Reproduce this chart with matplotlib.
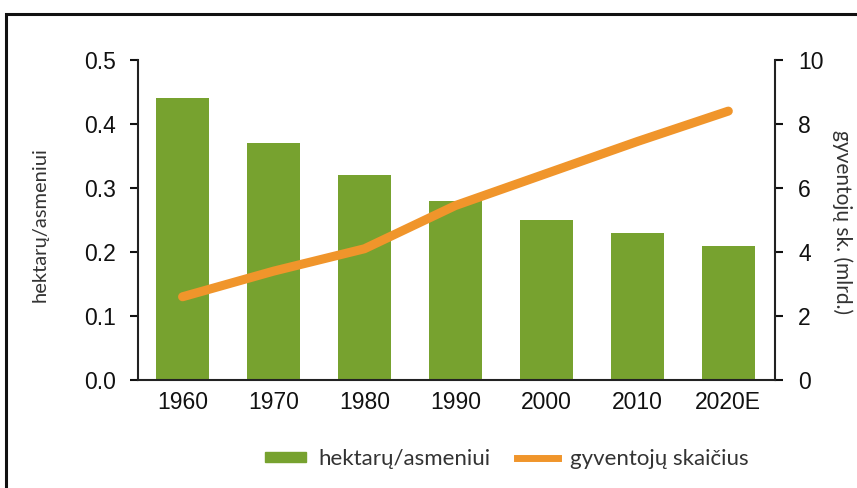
import numpy as np
import matplotlib.pyplot as plt
from matplotlib.patches import Rectangle
from matplotlib.lines import Line2D

years = ['1960', '1970', '1980', '1990', '2000', '2010', '2020E']
hectares = [0.44, 0.37, 0.32, 0.28, 0.25, 0.23, 0.21]
population = [2.6, 3.4, 4.1, 5.45, 6.45, 7.45, 8.4]

GREEN = '#77a22f'
ORANGE = '#f0952b'

plt.rcParams['font.family'] = ['Liberation Sans', 'DejaVu Sans']

fig = plt.figure(figsize=(8.57, 4.88), dpi=100)
ax = fig.add_axes([0.161, 0.2213, 0.743, 0.656])
ax2 = ax.twinx()

x = np.arange(len(years))
ax.bar(x, hectares, width=0.58, color=GREEN, zorder=2)
ax2.plot(x, population, color=ORANGE, lw=6.5, solid_capstyle='round', solid_joinstyle='round')

ax.set_xlim(-0.49, 6.51)
ax.set_ylim(0, 0.5)
ax2.set_ylim(0, 10)
ax.set_yticks(np.arange(0, 0.51, 0.1))
ax.set_yticklabels([f'{v:.1f}' for v in np.arange(0, 0.51, 0.1)])
ax2.set_yticks(range(0, 11, 2))
ax.set_xticks(x)
ax.set_xticklabels(years)

for a in (ax, ax2):
    a.spines['top'].set_visible(False)
    for s in a.spines.values():
        s.set_linewidth(1.5)
        s.set_color('#222222')
ax.spines['right'].set_visible(False)
ax2.spines['left'].set_visible(False)
ax2.spines['bottom'].set_visible(False)

ax.tick_params(axis='x', length=0, pad=8, labelsize=16.5, colors='#111111')
ax.tick_params(axis='y', length=6, width=1.5, pad=10, labelsize=16.5, colors='#111111')
ax2.tick_params(axis='y', length=6, width=1.5, pad=11, labelsize=16.5, colors='#111111')

lab_font = ['Lato', 'DejaVu Sans']
fig.text(40 / 857, 1 - 225 / 488, 'hektarų/asmeniui', rotation=90, ha='center', va='center',
         fontsize=14.5, color='#333333', family=lab_font)
fig.text(842 / 857, 1 - 222 / 488, 'gyventojų sk. (mlrd.)', rotation=-90, ha='center', va='center',
         fontsize=15, color='#333333', family=lab_font)

handles = [Rectangle((0, 0), 1, 1, color=GREEN),
           Line2D([0], [0], color=ORANGE, lw=5)]
fig.legend(handles, ['hektarų/asmeniui', 'gyventojų skaičius'], loc='center',
           bbox_to_anchor=(507 / 857, 1 - 459 / 488), ncol=2, frameon=False,
           prop={'family': lab_font, 'size': 16}, handlelength=1.85, handleheight=0.32,
           columnspacing=1.2, handletextpad=0.55, labelcolor='#333333')

# outer frame (cut off at right and bottom like the source)
fig.patches.append(Rectangle((6 / 857, -0.2), 1.2, 1.2 - 14 / 488,
                             transform=fig.transFigure, fill=False, lw=2.2,
                             edgecolor='#111111'))

fig.savefig('out.png', dpi=100)
